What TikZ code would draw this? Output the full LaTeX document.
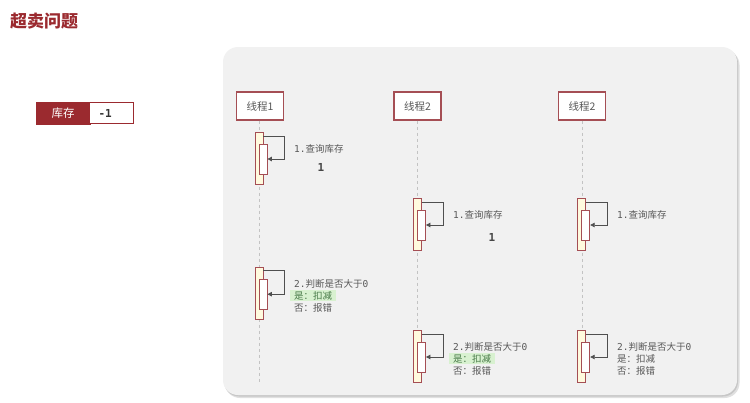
\documentclass[tikz,border=0pt]{standalone}
\usepackage{fontspec}
\setmainfont{Noto Sans CJK SC}
\newfontfamily\monof{DejaVu Sans Mono}
\usetikzlibrary{arrows.meta}
\definecolor{brand}{RGB}{155,42,47}
\definecolor{panel}{RGB}{241,241,241}
\definecolor{actborder}{RGB}{165,78,84}
\definecolor{actfill}{RGB}{255,250,222}
\definecolor{txt}{RGB}{88,88,88}
\definecolor{hl}{RGB}{216,241,208}
\definecolor{hltxt}{RGB}{72,122,72}
\definecolor{lifec}{RGB}{195,195,195}
\newcommand{\mytxt}[2]{{\monof #1}#2}
\tikzset{
  threadbox/.style={draw=actborder, line width=1.1pt, fill=white, minimum width=47pt, minimum height=28pt, inner sep=0pt, font=\fontsize{10.5}{12}\selectfont, text=txt},
  outerbar/.style={draw=actborder, line width=0.8pt, fill=actfill, minimum width=8pt, minimum height=52pt, inner sep=0pt},
  innerbar/.style={draw=actborder, line width=0.8pt, fill=white, minimum width=8pt, minimum height=30pt, inner sep=0pt},
  lbl/.style={anchor=west, inner sep=0pt, font=\fontsize{9.5}{12}\selectfont, text=txt},
  hlbl/.style={anchor=west, inner xsep=4pt, inner ysep=1pt, fill=hl, font=\fontsize{9.5}{12}\selectfont, text=hltxt},
  numlbl/.style={inner sep=0pt, font=\fontsize{11}{13}\selectfont\monof\bfseries, text=txt!80!black},
  selfloop/.style={draw=txt!90!black, line width=0.8pt, -{Triangle[length=4.5pt,width=4.5pt]}},
  lifeline/.style={draw=lifec, line width=0.8pt, dash pattern=on 3.5pt off 2.5pt}
}
\begin{document}
\begin{tikzpicture}[x=1pt,y=-1pt]
\useasboundingbox (0,0) rectangle (750,402);
\fill[white] (0,0) rectangle (750,402);
% title
\node[anchor=west, inner sep=0pt, font=\fontsize{17}{20}\selectfont\bfseries, text=brand] (title) at (10,21) {超卖问题};
% stock
\node[fill=brand, draw=brand, line width=1pt, minimum width=54pt, minimum height=22pt, inner sep=0pt, text=white, font=\fontsize{11.5}{13}\selectfont] (stockL) at (63,113) {库存};
\node[fill=white, draw=brand, line width=1.4pt, minimum height=21pt, text width=26pt, inner xsep=9pt, inner ysep=0pt, align=left, text=black!80, font=\fontsize{11}{13}\selectfont\monof\bfseries] (stockR) at (111.5,113) {-1};
% panel with shadow
\fill[black!12, rounded corners=15pt] (225,50) rectangle (739.5,398);
\fill[black!22, rounded corners=15pt] (224,48.5) rectangle (738,396.5);
\fill[panel, rounded corners=15pt] (223,47) rectangle (737,395);
% threads
\node[threadbox] (t1) at (260,106) {线程1};
\node[threadbox] (t2) at (417.5,106) {线程2};
\node[threadbox] (t3) at (582,106) {线程2};
\coordinate (e1) at (259.3,384);
\coordinate (e2) at (417.5,384);
\coordinate (e3) at (582,384);
\draw[lifeline] (t1.south -| e1) -- (e1);
\draw[lifeline] (t2.south) -- (e2);
\draw[lifeline] (t3.south) -- (e3);
% thread 1 activations
\node[outerbar] (o11) at (259,158) {};
\node[innerbar] (i11) at (263,159) {};
\draw[selfloop] ([yshift=-4.5pt]o11.north east) -- ++(21,0) |- (i11.east);
\node[outerbar] (o12) at (259,293.2) {};
\node[innerbar] (i12) at (263,294.2) {};
\draw[selfloop] ([yshift=-4pt]o12.north east) -- ++(21,0) |- (i12.east);
% thread 2 activations
\node[outerbar] (o21) at (417.5,224) {};
\node[innerbar] (i21) at (421.5,225) {};
\draw[selfloop] ([yshift=-4.5pt]o21.north east) -- ++(21,0) |- (i21.east);
\node[outerbar] (o22) at (417.5,356) {};
\node[innerbar] (i22) at (421.5,357) {};
\draw[selfloop] ([yshift=-4.5pt]o22.north east) -- ++(21,0) |- (i22.east);
% thread 3 activations
\node[outerbar] (o31) at (581.8,224) {};
\node[innerbar] (i31) at (585.8,225) {};
\draw[selfloop] ([yshift=-4.5pt]o31.north east) -- ++(21,0) |- (i31.east);
\node[outerbar] (o32) at (581.8,356) {};
\node[innerbar] (i32) at (585.8,357) {};
\draw[selfloop] ([yshift=-4.5pt]o32.north east) -- ++(21,0) |- (i32.east);
% labels thread 1
\node[lbl] (q1) at (294,149) {\mytxt{1.}{查询库存}};
\node[numlbl] (n1) at (321,167) {1};
\node[lbl] (j1) at (294,283.5) {\mytxt{2.}{判断是否大于}{\monof 0}};
\node[hlbl] (y1) at (290,295.7) {是：扣减};
\node[lbl] (r1) at (294,307.5) {否：报错};
% labels thread 2
\node[lbl] (q2) at (453,215) {\mytxt{1.}{查询库存}};
\node[numlbl] (n2) at (492,237) {1};
\node[lbl] (j2) at (453,347) {\mytxt{2.}{判断是否大于}{\monof 0}};
\node[hlbl] (y2) at (449,358.7) {是：扣减};
\node[lbl] (r2) at (453,370.7) {否：报错};
% labels thread 3
\node[lbl] (q3) at (617,215) {\mytxt{1.}{查询库存}};
\node[lbl] (j3) at (617,347) {\mytxt{2.}{判断是否大于}{\monof 0}};
\node[lbl] (y3) at (617,358.7) {是：扣减};
\node[lbl] (r3) at (617,370.7) {否：报错};
\end{tikzpicture}
\end{document}
